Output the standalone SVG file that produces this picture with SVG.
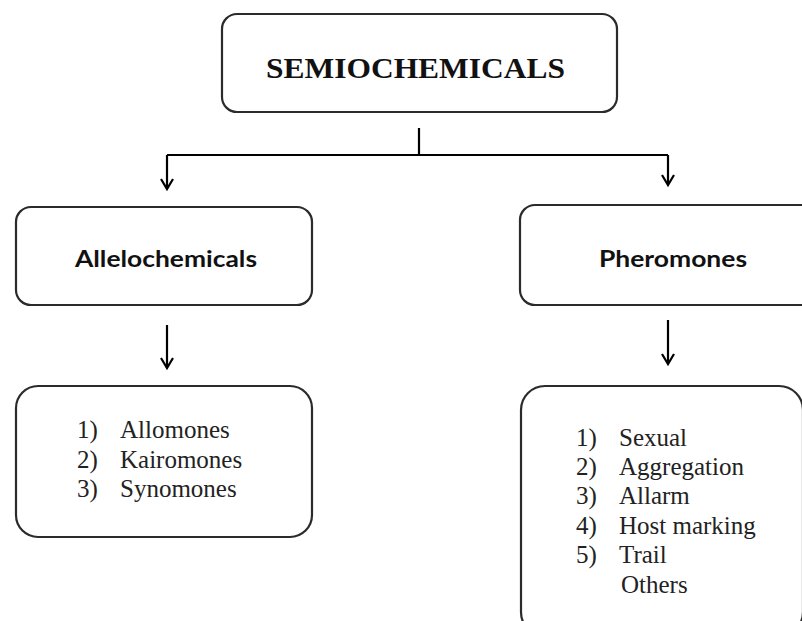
<svg xmlns="http://www.w3.org/2000/svg" width="802" height="621" viewBox="0 0 802 621">
<style>
.box{fill:#fff;stroke:#2b2b2b;stroke-width:2.2}
.ln{fill:none;stroke:#000;stroke-width:2.2}
.head{fill:none;stroke:#000;stroke-width:2.2;stroke-linejoin:miter}
.title{font-family:"Liberation Serif","Times New Roman",serif;font-weight:bold;font-size:29px;fill:#111}
.sub{font-family:Lato,"Open Sans",sans-serif;font-weight:bold;font-size:22px;fill:#111}
.item{font-family:"Liberation Serif","Times New Roman",serif;font-size:25px;fill:#222}
</style>
<rect width="802" height="621" fill="#fff"/>
<g id="connectors">
<path class="ln" d="M419,128 V155 M167,155 H668 M167,155 V188 M668,155 V184"/>
<path class="head" d="M161,179 L167,189 L173,179"/>
<path class="head" d="M662,175 L668,185 L674,175"/>
<path class="ln" d="M167,325 V367"/>
<path class="head" d="M161,358 L167,368 L173,358"/>
<path class="ln" d="M668,320 V363"/>
<path class="head" d="M662,354 L668,364 L674,354"/>
</g>
<g id="semiochemicals">
<rect class="box" x="222" y="14" width="395" height="98" rx="15"/>
<text class="title" x="266" y="78" textLength="299" lengthAdjust="spacingAndGlyphs">SEMIOCHEMICALS</text>
</g>
<g id="allelochemicals">
<rect class="box" x="16" y="207" width="296" height="98" rx="15"/>
<text class="sub" x="75" y="267" textLength="182" lengthAdjust="spacingAndGlyphs">Allelochemicals</text>
</g>
<g id="pheromones">
<rect class="box" x="520" y="205" width="300" height="100" rx="15"/>
<text class="sub" x="599" y="267" textLength="148" lengthAdjust="spacingAndGlyphs">Pheromones</text>
</g>
<g id="allelochemicals-list">
<rect class="box" x="16" y="386" width="296" height="151" rx="22"/>
<text class="item" x="77" y="438">1)</text><text class="item" x="120" y="438">Allomones</text>
<text class="item" x="77" y="467.5">2)</text><text class="item" x="120" y="467.5">Kairomones</text>
<text class="item" x="77" y="497">3)</text><text class="item" x="120" y="497">Synomones</text>
</g>
<g id="pheromones-list">
<rect class="box" x="521" y="386" width="282" height="250" rx="24"/>
<text class="item" x="576" y="446">1)</text><text class="item" x="619" y="446">Sexual</text>
<text class="item" x="576" y="475">2)</text><text class="item" x="619" y="475">Aggregation</text>
<text class="item" x="576" y="504">3)</text><text class="item" x="619" y="504">Allarm</text>
<text class="item" x="576" y="533.5">4)</text><text class="item" x="619" y="533.5">Host marking</text>
<text class="item" x="576" y="563">5)</text><text class="item" x="619" y="563">Trail</text>
<text class="item" x="621" y="593">Others</text>
</g>
</svg>
